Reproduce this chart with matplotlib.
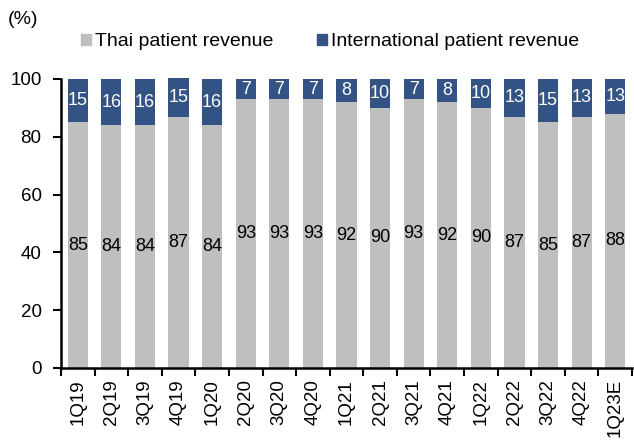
import matplotlib
matplotlib.use("Agg")
import matplotlib.pyplot as plt
from matplotlib.patches import Patch
import numpy as np

plt.rcParams['font.family'] = ['Liberation Sans', 'DejaVu Sans']

quarters = ["1Q19", "2Q19", "3Q19", "4Q19", "1Q20", "2Q20", "3Q20", "4Q20", "1Q21",
            "2Q21", "3Q21", "4Q21", "1Q22", "2Q22", "3Q22", "4Q22", "1Q23E"]
# Shares as printed on the chart
thai = [85, 84, 84, 87, 84, 93, 93, 93, 92, 90, 93, 92, 90, 87, 85, 87, 88]
intl = [15, 16, 16, 15, 16, 7, 7, 7, 8, 10, 7, 8, 10, 13, 15, 13, 13]
# Blue segment heights as drawn (labels are rounded; bars stack to ~100)
intl_drawn = [15, 16, 16, 13.5, 16, 7, 7, 7, 8, 10, 7, 8, 10, 13, 15, 13, 12]

gray = "#BFBFBF"
blue = "#335384"

fig = plt.figure(figsize=(6.34, 4.4), dpi=100)
ax = fig.add_axes([61/634, 1 - 368/440, (632 - 61)/634, (368 - 79)/440])

x = np.arange(len(quarters))
w = 0.6
ax.bar(x, thai, width=w, color=gray, clip_on=False, zorder=2)
ax.bar(x, intl_drawn, width=w, bottom=thai, color=blue, clip_on=False, zorder=2)

for xi, t, i, d in zip(x, thai, intl, intl_drawn):
    ax.text(xi, t / 2, f"{t}", ha="center", va="center", fontsize=13, color="black")
    ax.text(xi, t + d / 2, f"{i}", ha="center", va="center", fontsize=13, color="white")

ax.set_xlim(-0.5, len(quarters) - 0.5)
ax.set_ylim(0, 100)
ax.set_yticks([0, 20, 40, 60, 80, 100])
ax.tick_params(axis="y", labelsize=13.5, direction="out", length=6, width=1.5, pad=8)
ax.set_xticks(x)
ax.set_xticklabels(quarters, rotation=90, fontsize=13.5)
ax.tick_params(axis="x", which="major", length=0, pad=8)
ax.set_xticks(np.arange(-0.5, len(quarters), 1.0), minor=True)
ax.tick_params(axis="x", which="minor", length=6, width=1.5, direction="out")

for s in ["top", "right"]:
    ax.spines[s].set_visible(False)
for s in ["left", "bottom"]:
    ax.spines[s].set_linewidth(1.8)

fig.text(8/634, 1 - 20/440, "(%)", fontsize=14, va="center", ha="left")

handles = [Patch(color=gray, label="Thai patient revenue"),
           Patch(color=blue, label="International patient revenue")]
fig.legend(handles=handles, loc="center", bbox_to_anchor=(330/634, 1 - 42/440),
           ncol=2, frameon=False, fontsize=14, handlelength=0.55, handleheight=0.55,
           handletextpad=0.2, columnspacing=2.2, borderaxespad=0)

fig.savefig("out.png", dpi=100)
